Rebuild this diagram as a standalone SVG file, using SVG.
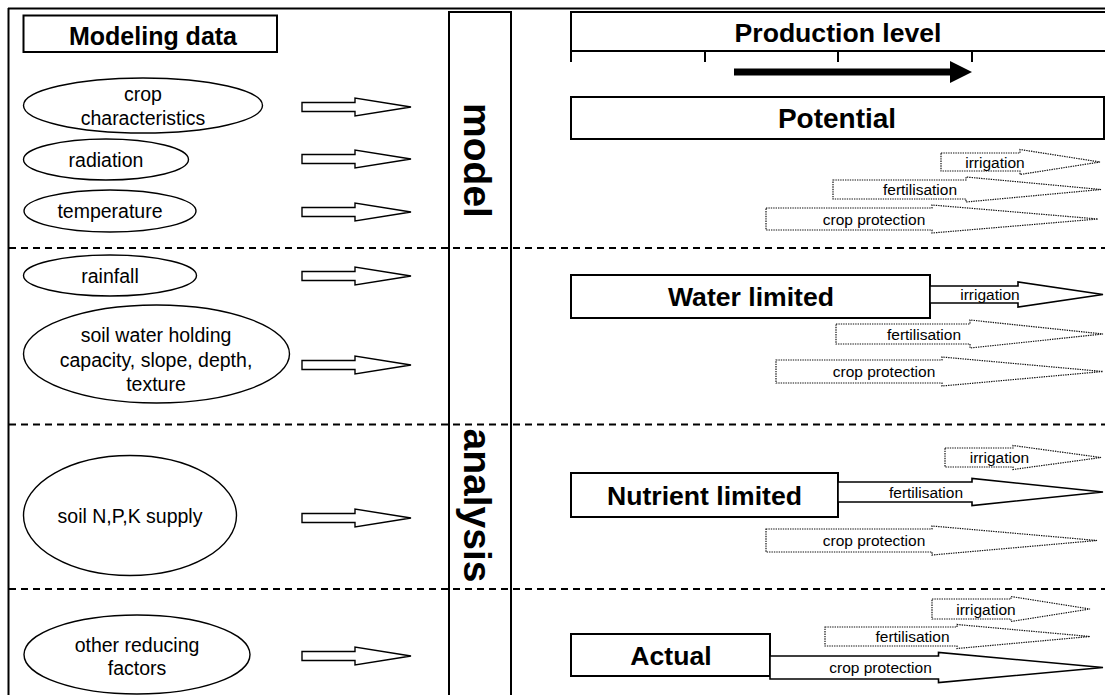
<svg xmlns="http://www.w3.org/2000/svg" width="1105" height="695" viewBox="0 0 1105 695">
<style>
text{font-family:"Liberation Sans",Arial,sans-serif;fill:#000}
.h{font-weight:bold;font-size:26.6px;text-anchor:middle}
.v{font-weight:bold;font-size:39px;text-anchor:middle}
.e{font-size:19.5px;text-anchor:middle}
.s{font-size:15.5px;text-anchor:middle}
.box{fill:#fff;stroke:#000;stroke-width:2}
.ell{fill:#fff;stroke:#000;stroke-width:1.4}
.blk{fill:#fff;stroke:#000;stroke-width:1.4}
.dot{fill:none;stroke:#111;stroke-width:1.2;stroke-dasharray:1.4 1}
.sol{fill:#fff;stroke:#000;stroke-width:1.6}
.dash{stroke:#000;stroke-width:2;stroke-dasharray:7 5;fill:none}
.ln{stroke:#000;stroke-width:2;fill:none}
</style>
<defs>
<path id="ba" d="M302,-4.5 H355 V-9 L411,0 L355,9 V4.5 H302 Z"/>
</defs>
<rect width="1105" height="695" fill="#fff"/>
<g id="frame">
<line class="ln" x1="8" y1="8.5" x2="1105" y2="8.5"/>
<line class="ln" x1="8.5" y1="8" x2="8.5" y2="695"/>
<line class="dash" x1="9" y1="248" x2="1105" y2="248"/>
<line class="dash" x1="9" y1="424.5" x2="1105" y2="424.5"/>
<line class="dash" x1="9" y1="589" x2="1105" y2="589"/>
</g>
<g id="column">
<path class="ln" d="M449,695 V12 H511 V695"/>
<text class="v" transform="translate(464,160.5) rotate(90)">model</text>
<text class="v" transform="translate(464,505.5) rotate(90)">analysis</text>
</g>
<g id="modeling-data">
<rect class="box" x="23.5" y="15.5" width="253.5" height="36.5"/>
<text class="h" x="153" y="45" style="font-size:25px">Modeling data</text>
</g>
<g id="crop-characteristics">
<ellipse class="ell" cx="143" cy="105.5" rx="119.5" ry="27.5"/>
<text class="e" x="143" y="101">crop</text>
<text class="e" x="143" y="124.5">characteristics</text>
</g>
<g id="radiation">
<ellipse class="ell" cx="106" cy="159.5" rx="82.5" ry="20.5"/>
<text class="e" x="106" y="166.5">radiation</text>
</g>
<g id="temperature">
<ellipse class="ell" cx="110" cy="211" rx="86" ry="21"/>
<text class="e" x="110" y="218">temperature</text>
</g>
<g id="rainfall">
<ellipse class="ell" cx="110" cy="275.5" rx="86.5" ry="20.5"/>
<text class="e" x="110" y="282.5">rainfall</text>
</g>
<g id="soil-water">
<ellipse class="ell" cx="156.5" cy="354" rx="133" ry="49"/>
<text class="e" x="156" y="342">soil water holding</text>
<text class="e" x="156" y="366.5">capacity, slope, depth,</text>
<text class="e" x="156" y="391">texture</text>
</g>
<g id="soil-npk">
<ellipse class="ell" cx="130" cy="515.5" rx="106.5" ry="60"/>
<text class="e" x="130" y="523">soil N,P,K supply</text>
</g>
<g id="other-factors">
<ellipse class="ell" cx="137" cy="654.5" rx="113" ry="39.5"/>
<text class="e" x="137" y="652">other reducing</text>
<text class="e" x="137" y="675">factors</text>
</g>
<g id="input-arrows">
<use href="#ba" class="blk" transform="translate(0,107)"/>
<use href="#ba" class="blk" transform="translate(0,159)"/>
<use href="#ba" class="blk" transform="translate(0,212)"/>
<use href="#ba" class="blk" transform="translate(0,276)"/>
<use href="#ba" class="blk" transform="translate(0,365)"/>
<use href="#ba" class="blk" transform="translate(0,518)"/>
<use href="#ba" class="blk" transform="translate(0,656)"/>
</g>
<g id="production-level">
<path class="ln" d="M1106,12 H571 V62 M571,51 H1106 M705,51 V62 M838,51 V62 M972,51 V62"/>
<text class="h" x="838" y="42">Production level</text>
<polygon points="734,68.5 950,68.5 950,61 972,72 950,83 950,75.5 734,75.5" fill="#000"/>
</g>
<g id="potential">
<rect class="box" x="571" y="97" width="533" height="42"/>
<text class="h" x="837" y="128" style="font-size:28px">Potential</text>
</g>
<g id="water-limited">
<rect class="box" x="571" y="275" width="359" height="43"/>
<text class="h" x="751" y="306">Water limited</text>
</g>
<g id="nutrient-limited">
<rect class="box" x="571" y="473" width="267" height="44"/>
<text class="h" x="704.5" y="504.5">Nutrient limited</text>
</g>
<g id="actual">
<rect class="box" x="571" y="634" width="199" height="42"/>
<text class="h" x="671" y="664.5">Actual</text>
</g>
<g id="measure-arrows">
<polygon class="dot" points="941,153 1020,153 1020,149.5 1100,162 1020,174.5 1020,171 941,171"/>
<text class="s" x="995" y="167.5">irrigation</text>
<polygon class="dot" points="833,180 966,180 966,177 1101,189.5 966,202 966,199 833,199"/>
<text class="s" x="920" y="195">fertilisation</text>
<polygon class="dot" points="766,208 932,208 932,205 1098,219 932,233 932,230 766,230"/>
<text class="s" x="874" y="224.5">crop protection</text>

<polygon class="sol" points="930,286 1018,286 1018,282 1103,294.5 1018,307 1018,303 930,303"/>
<text class="s" x="990" y="300">irrigation</text>
<polygon class="dot" points="836,324 970,324 970,320 1103,334 970,348 970,344 836,344"/>
<text class="s" x="924" y="339.5">fertilisation</text>
<polygon class="dot" points="776,360 942,360 942,357 1103,371.5 942,386 942,383 776,383"/>
<text class="s" x="884" y="377">crop protection</text>

<polygon class="dot" points="945,448 1013,448 1013,445.5 1101,457.5 1013,469.5 1013,467 945,467"/>
<text class="s" x="999.5" y="463">irrigation</text>
<polygon class="sol" points="838,482 972,482 972,478.5 1103,492 972,505.5 972,502 838,502"/>
<text class="s" x="926" y="497.5">fertilisation</text>
<polygon class="dot" points="766,529 932,529 932,526 1097,540.5 932,555 932,552 766,552"/>
<text class="s" x="874" y="546">crop protection</text>

<polygon class="dot" points="932,599 1011,599 1011,596.5 1090,609 1011,621.5 1011,619 932,619"/>
<text class="s" x="986" y="614.5">irrigation</text>
<polygon class="dot" points="825,627 957,627 957,624.5 1090,636.5 957,648.5 957,646 825,646"/>
<text class="s" x="912.5" y="642">fertilisation</text>
<polygon class="sol" points="770,656 938.5,656 938.5,652.5 1103,667.5 938.5,682.5 938.5,679 770,679"/>
<text class="s" x="880.5" y="673">crop protection</text>
</g>
</svg>
